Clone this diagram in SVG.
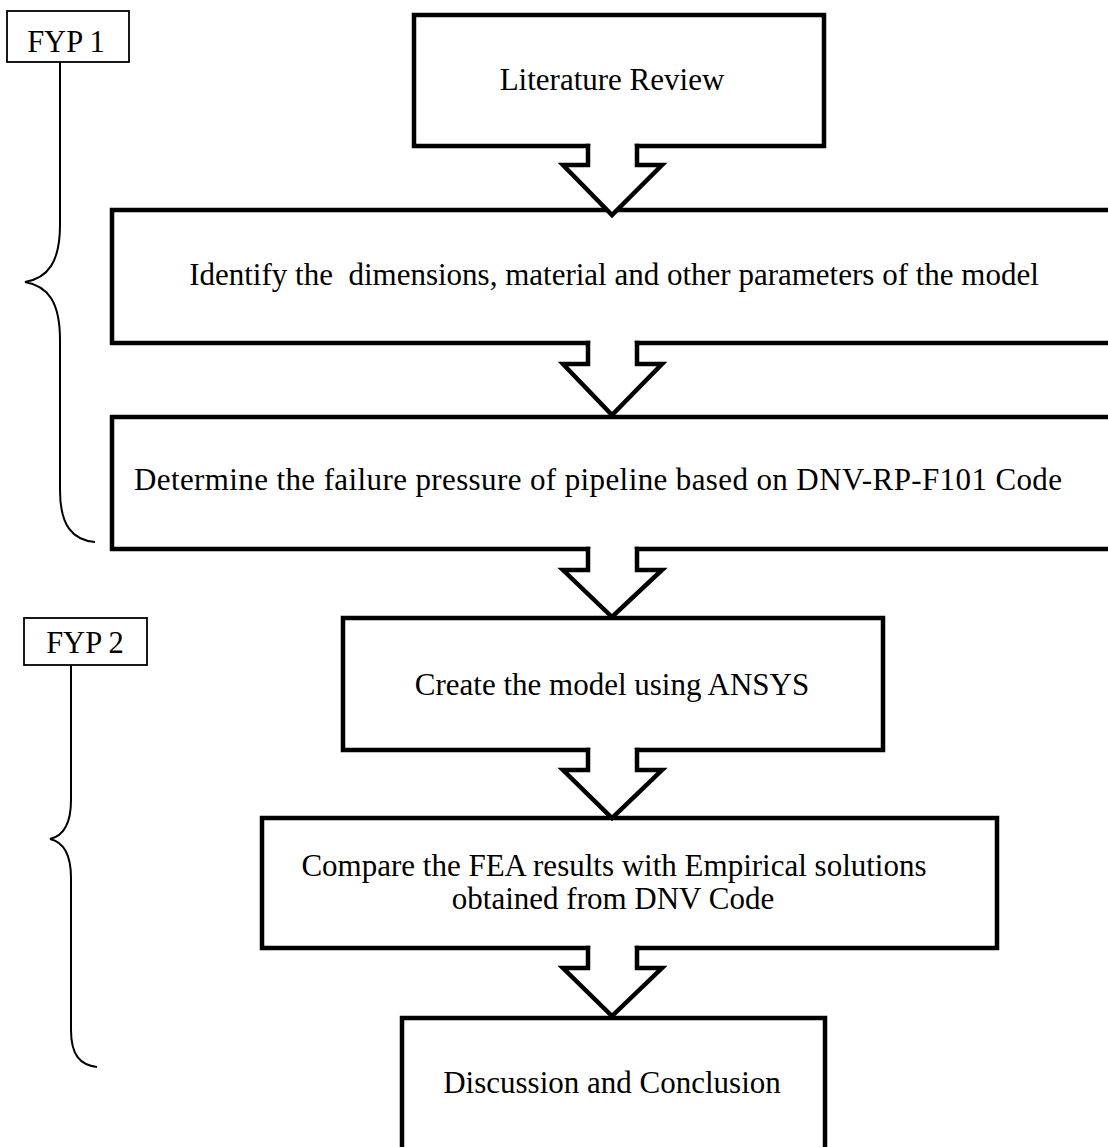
<svg xmlns="http://www.w3.org/2000/svg" width="1108" height="1147" viewBox="0 0 1108 1147">
<style>
.box{fill:none;stroke:#000;stroke-width:4.5;stroke-linejoin:miter;stroke-linecap:square}
.arr{fill:#fff;stroke:#000;stroke-width:4.5;stroke-linejoin:miter;stroke-linecap:square}
.lbl{fill:#fff;stroke:#000;stroke-width:1.8}
.brace{fill:none;stroke:#000;stroke-width:2}
text{font-family:"Liberation Serif","Times New Roman",serif;fill:#000;text-anchor:middle;white-space:pre}
.t{font-size:31px}
.f{font-size:30.5px}
</style>
<rect width="1108" height="1147" fill="#fff"/>
<g id="fyp1">
<rect class="lbl" x="7" y="11" width="122" height="51"/>
<text class="f" x="66" y="52">FYP 1</text>
<path class="brace" d="M60,62 V225 C60,262 48,278 25,282 C48,286 60,302 60,340 V490 C60,525 72,540 95,542"/>
</g>
<g id="fyp2">
<rect class="lbl" x="24" y="618" width="123" height="47"/>
<text class="f" x="85" y="653">FYP 2</text>
<path class="brace" d="M71,665 V800 C71,825 63,836 50,839 C63,842 71,853 71,878 V1030 C71,1055 80,1065 97,1067"/>
</g>
<g id="n1">
<path class="box" d="M588,146 H414 V15 H824 V146 H637"/>
<text class="t" x="612" y="90">Literature Review</text>
</g>
<g id="n2">
<path class="box" d="M588,343 H112 V210 H1115 V343 H637"/>
<text class="t" x="614" y="285">Identify the  dimensions, material and other parameters of the model</text>
</g>
<g id="n3">
<path class="box" d="M588,549 H112 V417 H1115 V549 H637"/>
<text class="t" x="598" y="490" textLength="928" lengthAdjust="spacing">Determine the failure pressure of pipeline based on DNV-RP-F101 Code</text>
</g>
<g id="n4">
<path class="box" d="M588,750 H343 V618 H883 V750 H637"/>
<text class="t" x="612" y="695">Create the model using ANSYS</text>
</g>
<g id="n5">
<path class="box" d="M588,948 H262 V818 H997 V948 H637"/>
<text class="t" x="614" y="876">Compare the FEA results with Empirical solutions</text>
<text class="t" x="613" y="909">obtained from DNV Code</text>
</g>
<g id="n6">
<path class="box" d="M402,1160 V1018 H825 V1160"/>
<text class="t" x="612" y="1093">Discussion and Conclusion</text>
</g>
<g id="connectors">
<path class="arr" d="M588,146 V165 H563 L612,215 L662,165 H637 V146"/>
<path class="arr" d="M588,343 V364 H563 L612,415 L662,364 H637 V343"/>
<path class="arr" d="M588,549 V570 H563 L612,617 L662,570 H637 V549"/>
<path class="arr" d="M588,750 V770 H563 L612,818 L662,770 H637 V750"/>
<path class="arr" d="M588,948 V968 H563 L612,1016 L662,968 H637 V948"/>
</g>
</svg>
